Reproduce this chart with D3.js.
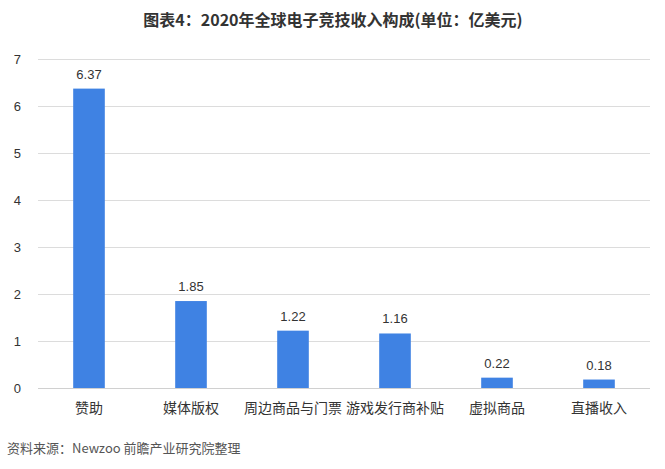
<!DOCTYPE html>
<html><head><meta charset="utf-8">
<script src="https://cdn.jsdelivr.net/npm/d3@7"></script>
<style>
html,body{margin:0;padding:0;background:#fff;}
svg{display:block;font-family:"Noto Sans CJK SC","Noto Sans",sans-serif;}
</style></head>
<body>
<script>
const categories = ["赞助","媒体版权","周边商品与门票","游戏发行商补贴","虚拟商品","直播收入"];
const values = [6.37,1.85,1.22,1.16,0.22,0.18];
const yTicks = [0,1,2,3,4,5,6,7];
const title = "图表4：2020年全球电子竞技收入构成(单位：亿美元)";
const source = "资料来源：Newzoo 前瞻产业研究院整理";

const W = 665, H = 469;
const svg = d3.select("body").append("svg").attr("width", W).attr("height", H);

const x = d3.scaleBand().domain(categories).range([38, 650]).paddingInner(0.69).paddingOuter(0.345);
const y = d3.scaleLinear().domain([0, 7]).range([388, 59]);

// gridlines
svg.append("g").selectAll("line").data(yTicks).join("line")
  .attr("x1", 38).attr("x2", 650)
  .attr("y1", d => y(d)).attr("y2", d => y(d))
  .attr("stroke", d => d === 0 ? "#d0d0d0" : "#dcdcdc").attr("stroke-width", 1)
  .attr("shape-rendering", "crispEdges");

// y axis labels
const yAxis = d3.axisLeft(y).tickValues(yTicks).tickSize(0).tickPadding(0).tickFormat(d3.format("d"));
const ya = svg.append("g").attr("transform", "translate(21,0)").call(yAxis);
ya.select(".domain").remove();
ya.selectAll("text").attr("font-size", 13).attr("fill", "#333").attr("font-family", "Liberation Sans, Arial, sans-serif");

// bars
svg.append("g").selectAll("rect").data(values).join("rect")
  .attr("x", (d, i) => x(categories[i]))
  .attr("width", x.bandwidth())
  .attr("y", d => y(d))
  .attr("height", d => y(0) - y(d))
  .attr("fill", "#3f82e3");

// value labels
svg.append("g").selectAll("text").data(values).join("text")
  .attr("x", (d, i) => x(categories[i]) + x.bandwidth() / 2)
  .attr("y", d => y(d) - 10)
  .attr("text-anchor", "middle")
  .attr("font-size", 13).attr("fill", "#333")
  .attr("font-family", "Liberation Sans, Arial, sans-serif")
  .text(d => d.toFixed(2));

// x axis labels
const xAxis = d3.axisBottom(x).tickSize(0).tickPadding(0);
const xa = svg.append("g").attr("transform", "translate(0,413)").call(xAxis);
xa.select(".domain").remove();
xa.selectAll("text").attr("font-size", 14).attr("fill", "#333").attr("dy", 0)
  .attr("font-family", "Noto Sans CJK SC, sans-serif");

// title
svg.append("text").attr("x", 333).attr("y", 26).attr("text-anchor", "middle")
  .attr("font-size", 16).attr("font-weight", "bold").attr("fill", "#333")
  .text(title);

// source
svg.append("text").attr("x", 7).attr("y", 453)
  .attr("font-size", 13).attr("fill", "#555")
  .text(source);
</script>
</body></html>
